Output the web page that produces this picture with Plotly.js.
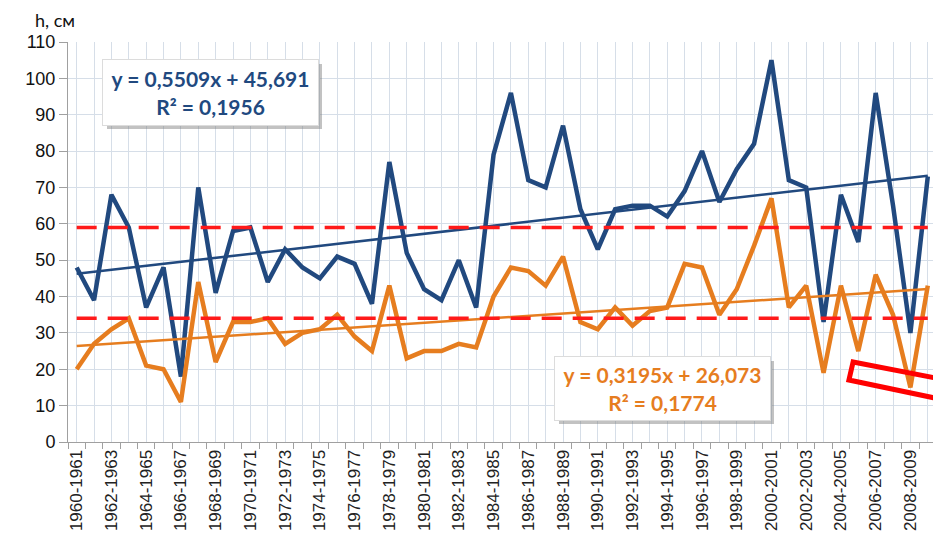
<!DOCTYPE html>
<html>
<head>
<meta charset="utf-8">
<script src="https://cdn.plot.ly/plotly-3.0.1.min.js"></script>
<style>html,body{margin:0;padding:0;background:#fff;}#chart{width:933px;height:550px;}</style>
</head>
<body>
<div id="chart"></div>
<script>
// Categories (hydrological years)
const categories = [];
for (let y = 1960; y <= 2009; y++) categories.push(y + '-' + (y + 1));

// Series values, h (cm)
const blueValues = [48,39,68,59,37,48,18,70,41,58,59,44,53,48,45,51,49,38,77,52,
                    42,39,50,37,79,96,72,70,87,64,53,64,65,65,62,69,80,66,75,82,
                    105,72,70,33,68,55,96,65,30,73];
const orangeValues = [20,27,31,34,21,20,11,44,22,33,33,34,27,30,31,35,29,25,43,23,
                      25,25,27,26,40,48,47,43,51,33,31,37,32,36,37,49,48,35,42,54,
                      67,37,43,19,43,25,46,35,15,43];

// Threshold levels (red dashed lines)
const upperLevel = 59;
const lowerLevel = 34;

// Trend equations as printed on the chart (x = 1..N)
const blueTrend = {slope: 0.5509, intercept: 45.691, text: 'y = 0,5509x + 45,691<br>R² = 0,1956'};
const orangeTrend = {slope: 0.3195, intercept: 26.073, text: 'y = 0,3195x + 26,073<br>R² = 0,1774'};

// Tick labels: every other category
const tickIdx = categories.map((c, i) => i).filter(i => i % 2 === 0);
const tickLabels = tickIdx.map(i => categories[i]);

const xIdx = categories.map((c, i) => i);
const n = categories.length;
const BLUE = '#21497f';
const ORANGE = '#e67d1f';

function trendY(t, i) { return t.slope * (i + 1) + t.intercept; }

const traces = [
  {x: xIdx, y: blueValues, type: 'scatter', mode: 'lines', line: {color: BLUE, width: 4.5}, hoverinfo: 'skip'},
  {x: xIdx, y: orangeValues, type: 'scatter', mode: 'lines', line: {color: ORANGE, width: 4.5}, hoverinfo: 'skip'},
  {x: [0, n - 1], y: [trendY(blueTrend, 0), trendY(blueTrend, n - 1)], type: 'scatter', mode: 'lines', line: {color: BLUE, width: 2.5}},
  {x: [0, n - 1], y: [trendY(orangeTrend, 0), trendY(orangeTrend, n - 1)], type: 'scatter', mode: 'lines', line: {color: ORANGE, width: 2.5}},
  {x: [0, n - 1], y: [upperLevel, upperLevel], type: 'scatter', mode: 'lines', line: {color: '#ff1a1a', width: 3.5, dash: '20px,11px'}},
  {x: [0, n - 1], y: [lowerLevel, lowerLevel], type: 'scatter', mode: 'lines', line: {color: '#ff1a1a', width: 3.5, dash: '20px,11px'}},
  // boundary ticks holder on xaxis2
  {x: [0], y: [0], xaxis: 'x2', type: 'scatter', mode: 'markers', marker: {opacity: 0}, hoverinfo: 'skip'}
];

const L = 68, T = 42, PW = 933 - 68, PH = 400;
function px2paperX(px) { return (px - L) / PW; }
function px2paperY(py) { return (T + PH - py) / PH; }

function box(x0, y0, x1, y1, text, color) {
  return {
    shadow: {type: 'rect', xref: 'paper', yref: 'paper', layer: 'above',
      x0: px2paperX(x0 + 4), x1: px2paperX(x1 + 4), y0: px2paperY(y1 + 4), y1: px2paperY(y0 + 4),
      fillcolor: 'rgba(120,120,120,0.45)', line: {width: 0}},
    ann: {xref: 'paper', yref: 'paper', x: px2paperX((x0 + x1) / 2), y: px2paperY((y0 + y1) / 2),
      xanchor: 'center', yanchor: 'middle', showarrow: false, text: '<b>' + text + '</b>',
      width: x1 - x0 - 2, height: y1 - y0 - 2, bgcolor: '#ffffff', bordercolor: '#dcdcdc', borderwidth: 1,
      font: {family: 'Lato, "Open Sans", sans-serif', size: 21, color: color}, align: 'center'}
  };
}
const b1 = box(103, 60, 318, 125, blueTrend.text, BLUE);
const b2 = box(555, 357, 770, 420, orangeTrend.text, ORANGE);

const layout = {
  width: 933, height: 550,
  margin: {l: L, r: 0, t: T, b: 550 - T - PH},
  paper_bgcolor: '#ffffff', plot_bgcolor: '#ffffff',
  showlegend: false,
  font: {family: '"Liberation Sans", Arial, sans-serif', color: '#222'},
  xaxis: {
    type: 'linear', range: [-0.5, 49.3], tickmode: 'array', tickvals: tickIdx, ticktext: tickLabels,
    tickangle: -90, tickfont: {size: 17, color: '#222'}, ticks: '', showgrid: true, gridcolor: '#d6dee8', gridwidth: 1,
    minor: {dtick: 1, tick0: 0, showgrid: true, gridcolor: '#d6dee8', gridwidth: 1},
    showline: true, linecolor: '#a0a0a0', linewidth: 1, zeroline: false, fixedrange: true
  },
  xaxis2: {
    type: 'linear', overlaying: 'x', matches: 'x', range: [-0.5, 49.3], tickmode: 'array',
    tickvals: categories.map((c, i) => i - 0.5).concat([n - 0.5]), showticklabels: false,
    ticks: 'outside', ticklen: 6, tickcolor: '#a0a0a0', showgrid: false, zeroline: false, side: 'bottom', showline: false
  },
  yaxis: {
    range: [0, 110], dtick: 10, tick0: 0, ticks: 'outside', ticklen: 8, tickcolor: '#a0a0a0',
    tickfont: {size: 18, color: '#111'}, showgrid: true, gridcolor: '#d6dee8', gridwidth: 1,
    showline: true, linecolor: '#a0a0a0', linewidth: 1, zeroline: false, fixedrange: true
  },
  shapes: [
    b1.shadow, b2.shadow,
    {type: 'path', xref: 'x', yref: 'y', layer: 'above',
     path: 'M 44.7 22 L 50.2 16.9 L 50.2 11.3 L 44.46 17.05 Z',
     line: {color: '#ff0000', width: 5}, fillcolor: 'rgba(0,0,0,0)'}
  ],
  annotations: [
    b1.ann, b2.ann,
    {xref: 'paper', yref: 'paper', x: px2paperX(55), y: px2paperY(20), xanchor: 'center', yanchor: 'middle',
     showarrow: false, text: 'h, см', font: {family: 'Lato, "Open Sans", sans-serif', size: 18, color: '#111'}}
  ]
};

Plotly.newPlot('chart', traces, layout, {staticPlot: true, displayModeBar: false});
</script>
</body>
</html>
